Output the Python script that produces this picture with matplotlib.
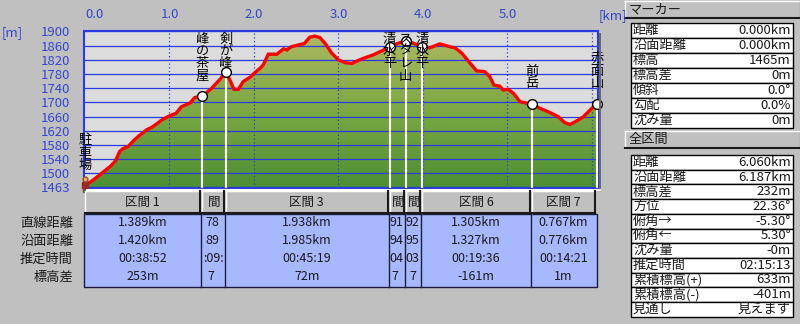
import matplotlib; matplotlib.use("agg")
import matplotlib.pyplot as plt
import numpy as np
from matplotlib.patches import Rectangle, Polygon
from matplotlib.lines import Line2D
from matplotlib.transforms import Affine2D
from matplotlib.colors import LinearSegmentedColormap
from matplotlib.font_manager import FontProperties

plt.rcParams['font.family'] = ['Noto Sans CJK JP', 'DejaVu Sans']

# elevation profile (km, m)
dist = [0.00, 0.10, 0.22, 0.30, 0.36, 0.41, 0.45, 0.51, 0.59, 0.66, 0.73, 0.79,
        0.85, 0.91, 0.98, 1.08, 1.14, 1.24, 1.30, 1.389, 1.50, 1.60, 1.667, 1.716,
        1.763, 1.815, 1.873, 1.953, 2.01, 2.07, 2.11, 2.17, 2.27, 2.35, 2.39, 2.44,
        2.56, 2.60, 2.66, 2.72, 2.78, 2.84, 2.92, 3.00, 3.08, 3.16, 3.23, 3.29,
        3.41, 3.51, 3.605, 3.71, 3.796, 3.886, 3.988, 4.08, 4.20, 4.32, 4.38, 4.46,
        4.56, 4.635, 4.73, 4.79, 4.84, 4.91, 4.95, 5.01, 5.07, 5.15, 5.23, 5.293,
        5.38, 5.50, 5.60, 5.68, 5.74, 5.82, 5.90, 5.98, 6.06]
elev = [1465, 1482, 1505, 1520, 1535, 1562, 1570, 1576, 1596, 1610, 1623, 1630,
        1640, 1651, 1660, 1670, 1688, 1698, 1714, 1718, 1740, 1766, 1785, 1763,
        1737, 1737, 1759, 1771, 1784, 1796, 1806, 1836, 1836, 1851, 1848, 1857,
        1864, 1867, 1884, 1887, 1883, 1867, 1839, 1820, 1812, 1810, 1818, 1824,
        1834, 1845, 1857, 1867, 1874, 1867, 1857, 1854, 1865, 1857, 1854, 1839,
        1810, 1789, 1787, 1773, 1749, 1746, 1735, 1737, 1726, 1702, 1698, 1696,
        1684, 1672, 1660, 1643, 1638, 1648, 1660, 1679, 1697]

start_elev = 1465
wp_names = ['駐車場', '峰の茶屋', '剣が峰', '清水平', 'スダレ山', '清水平', '前岳', '赤面山']
sec_names = ['区間 1', '区間 2', '区間 3', '区間 4', '区間 5', '区間 6', '区間 7']
sec_direct = [1.389, 0.278, 1.938, 0.191, 0.192, 1.305, 0.767]
sec_surface = [1.420, 0.289, 1.985, 0.194, 0.195, 1.327, 0.776]
sec_time = ['00:38:52', '00:09:27', '00:45:19', '00:04:12', '00:03:26', '00:19:36', '00:14:21']
sec_dz = [253, 67, 72, 17, -17, -161, 1]
row_names = ['直線距離', '沿面距離', '推定時間', '標高差']

yticks = [1900, 1860, 1820, 1780, 1740, 1700, 1660, 1620, 1580, 1540, 1500, 1463]
xticks = [0, 1, 2, 3, 4, 5]
vgrid = [1, 2, 3, 4, 5, 6]

marker_labels = ['距離', '沿面距離', '標高', '標高差', '傾斜', '勾配', '沈み量']
marker_values = ['0.000km', '0.000km', '1465m', '0m', '0.0°', '0.0%', '0m']
total_labels = ['距離', '沿面距離', '標高差', '方位', '俯角→', '俯角←', '沈み量',
                '推定時間', '累積標高(+)', '累積標高(-)', '見通し']
total_values = ['6.060km', '6.187km', '232m', '22.36°', '-5.30°', '5.30°', '-0m',
                '02:15:13', '633m', '-401m', '見えます']

W, H = 800, 324
BG = '#c0c0c0'
BLUE = '#2a3ce0'
TICK = '#3446d0'
INK = '#1a1a1a'

fig = plt.figure(figsize=(8, 3.24), dpi=100, facecolor=BG)
T = Affine2D().scale(1, -1).translate(0, H)   # pixel coords, origin top-left

ax = fig.add_axes([84 / W, 1 - 188 / H, (598 - 84) / W, (188 - 31) / H])
ax.set_facecolor('#dcdcdc')
x0, x1 = -0.012, 6.072
y0, y1 = 1459, 1901.4

cum = np.concatenate([[0], np.cumsum(sec_direct)])
wp_elev = start_elev + np.concatenate([[0], np.cumsum(sec_dz)])

# gradient fill under the profile
poly = Polygon(np.column_stack([np.r_[dist, dist[-1], dist[0]], np.r_[elev, y0, y0]]),
               closed=True, facecolor='none', edgecolor='none')
ax.add_patch(poly)
cmap = LinearSegmentedColormap.from_list('g', ['#4c8f34', '#7aa842', '#abb95e'])
im = ax.imshow(np.linspace(0, 1, 256)[:, None], cmap=cmap, origin='lower',
               extent=[x0, x1, y0, 1890], aspect='auto', zorder=1)
im.set_clip_path(poly)

for y in yticks:
    ax.axhline(y, color=BLUE, lw=0.9, zorder=2)
for x in vgrid:
    ax.axvline(x, color=BLUE, lw=0.9, ls=(0, (1, 2)), zorder=2)

ax.vlines(cum[1:], y0, wp_elev[1:], color='white', lw=1.5, zorder=3)
ax.plot(dist, elev, color='red', lw=2.4, zorder=4, solid_joinstyle='miter')
ax.plot(cum[1:], wp_elev[1:], 'o', ms=7, mfc='white', mec='black', mew=1, zorder=5,
        clip_on=False)

# hiker at the start
ax.plot(cum[0], 1452, 's', ms=3, color='#6a5030', zorder=6, clip_on=False)
ax.plot(cum[0], 1467, 's', ms=5, color='#a02828', zorder=6, clip_on=False)
ax.plot(cum[0], 1484, 'o', ms=3.5, color='#e8b070', mec='#a05020', zorder=6, clip_on=False)

# vertical place names
char_m = 35
for name, d, e in zip(wp_names, cum, wp_elev):
    top = min(e + 40 + char_m * len(name), 1897)
    for i, ch in enumerate(name):
        ax.text(d, top - i * char_m, ch, ha='center', va='top', fontsize=9.5,
                color='black', zorder=7, clip_on=False)

ax.set_xlim(x0, x1)
ax.set_ylim(y0, y1)
ax.set_yticks(yticks)
ax.set_yticklabels([str(v) for v in yticks])
ax.tick_params(axis='y', length=0, pad=10, labelcolor=TICK, labelsize=9.5)
ax.xaxis.tick_top()
ax.set_xticks(xticks)
ax.set_xticklabels(['%.1f' % v for v in xticks])
ax.tick_params(axis='x', length=0, pad=7, labelcolor=TICK, labelsize=9.5)
ax.get_xticklabels()[0].set_ha('left')
for s in ax.spines.values():
    s.set_color(BLUE)
    s.set_linewidth(1.5)

fig.text(2, 33, '[m]', transform=T, color=TICK, fontsize=9.5, va='center', ha='left')
fig.text(599, 16, '[km]', transform=T, color=TICK, fontsize=9.5, va='center', ha='left')

# shadow right of the plot
fig.add_artist(Rectangle((599, 33), 2, 157, transform=T, facecolor='#6a6a6a', edgecolor='none'))
fig.add_artist(Rectangle((86, 189), 515, 1.5, transform=T, facecolor='#ffffff', edgecolor='none'))


def px(d):
    return ax.transData.transform((d, y0))[0]


def button(xa, xb, ya, yb):
    fig.add_artist(Rectangle((xa, ya), xb - xa, yb - ya, transform=T,
                             facecolor=BG, edgecolor='none'))
    fig.add_artist(Line2D([xa, xb], [ya, ya], transform=T, color='white', lw=1))
    fig.add_artist(Line2D([xa, xa], [ya, yb], transform=T, color='white', lw=1))
    fig.add_artist(Line2D([xa, xb], [yb, yb], transform=T, color=INK, lw=1.5))
    fig.add_artist(Line2D([xb, xb], [ya, yb], transform=T, color=INK, lw=1.5))


renderer = fig.canvas.get_renderer()
cell_font = FontProperties(family=['Noto Sans CJK JP', 'DejaVu Sans'], size=9)


def text_w(s):
    if not s:
        return 0.0
    return renderer.get_text_width_height_descent(s, cell_font, ismath=False)[0]


def visible(s, xc, xa, xb):
    # the part of a centred string that fits inside a narrow column
    total = text_w(s)
    if total <= xb - xa:
        return s, xc
    left = xc - total / 2
    edges = [left + text_w(s[:k]) for k in range(len(s) + 1)]
    keep = [i for i in range(len(s)) if edges[i] >= xa - 1.5 and edges[i + 1] <= xb + 1.5]
    if not keep:
        return '', xc
    i0, i1 = keep[0], keep[-1] + 1
    return s[i0:i1], (edges[i0] + edges[i1]) / 2


# section table
tab_top, tab_bot = 214, 287
row_y = [223, 241, 259, 277]
xr = px(cum[-1])
fig.add_artist(Rectangle((84, tab_top), xr - 84, tab_bot - tab_top, transform=T,
                         facecolor='#a8b8ff', edgecolor='#1c1c3c', lw=1))
for i in range(len(sec_direct)):
    xa, xb = px(cum[i]) - 1, px(cum[i + 1]) - 1
    if i == 0:
        xa = 84
    button(xa + 1, xb - 1, 191, 213)
    clip = Rectangle((xa + 1, 191), xb - xa - 2, 96, transform=T)
    xc = (xa + xb) / 2
    vals = ['%.3fkm' % sec_direct[i], '%.3fkm' % sec_surface[i], sec_time[i],
            '%dm' % sec_dz[i]]
    for v, y in zip([sec_names[i]] + vals, [202] + row_y):
        s, xs = visible(v, xc, xa + 1, xb - 1)
        t = fig.text(xs, y, s, transform=T, ha='center', va='center',
                     fontproperties=cell_font, color=INK)
        t.set_clip_path(clip)
    if i > 0:
        fig.add_artist(Line2D([xa, xa], [tab_top, tab_bot], transform=T,
                              color='#1c1c3c', lw=1))
for name, y in zip(row_names, row_y):
    fig.text(73, y, name, transform=T, ha='right', va='center', fontsize=9.5, color=INK)


# right-hand panels
def info_table(top, rowh, labels, values):
    for i, (lab, val) in enumerate(zip(labels, values)):
        ya = top + i * rowh
        fig.add_artist(Rectangle((631, ya), 162, rowh, transform=T, facecolor='white',
                                 edgecolor='black', lw=1))
        fig.text(633, ya + rowh / 2, lab, transform=T, ha='left', va='center',
                 fontsize=9.5, color=INK)
        fig.text(791, ya + rowh / 2, val, transform=T, ha='right', va='center',
                 fontsize=9.5, color=INK)


button(625, 801, 1, 18)
fig.text(629, 10, 'マーカー', transform=T, ha='left', va='center', fontsize=9.5, color=INK)
info_table(23, 15, marker_labels, marker_values)
button(625, 801, 131, 148)
fig.text(629, 140, '全区間', transform=T, ha='left', va='center', fontsize=9.5, color=INK)
info_table(155, 14.7, total_labels, total_values)

fig.savefig('out.png', dpi=100, facecolor=BG)
